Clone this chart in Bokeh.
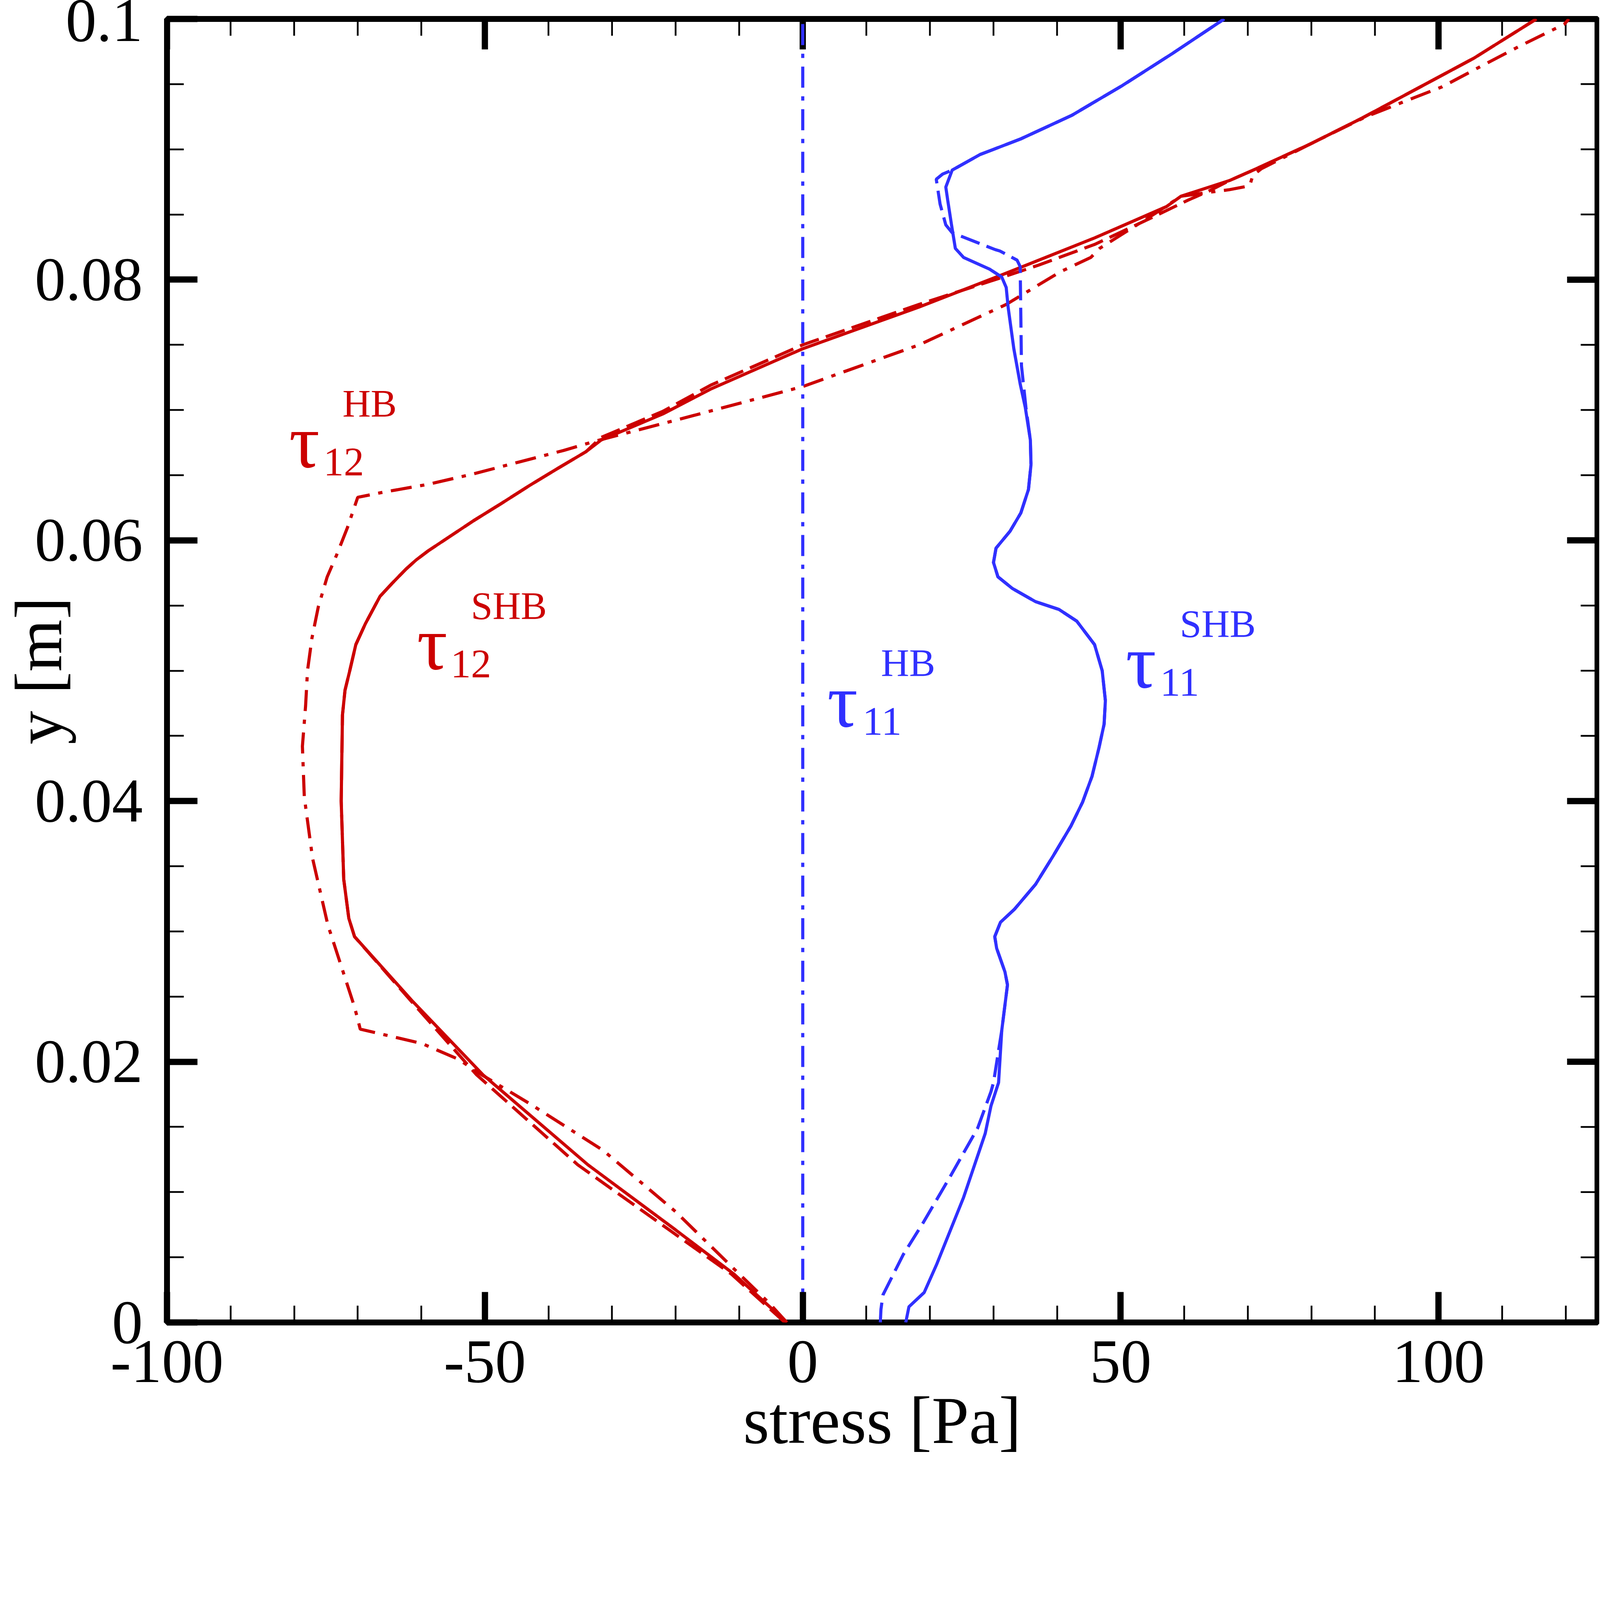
from bokeh.plotting import figure
from bokeh.models import Range1d, FixedTicker, LinearAxis
from bokeh.embed import file_html
from bokeh.resources import INLINE
from bokeh.core.properties import value

# ---------------- data ----------------
# tau_12 SHB (red solid)
t12_shb_y = [0.0, 0.0037, 0.0071, 0.0121, 0.019, 0.0246, 0.0296, 0.031, 0.034, 0.040,
             0.0466, 0.0485, 0.0499, 0.0520, 0.0536, 0.0557, 0.0567, 0.0578, 0.0585,
             0.0592, 0.0603, 0.0615, 0.0628, 0.0642, 0.0655, 0.0668, 0.0677, 0.0697,
             0.0716, 0.0747, 0.0779, 0.0804, 0.0832, 0.0856, 0.0864, 0.0876,
             0.0885, 0.0904, 0.0924, 0.0947, 0.0970, 0.1]
t12_shb_x = [-2.5, -10.8, -20.0, -33.8, -50.3, -61.3, -70.5, -71.4, -72.2, -72.6,
             -72.4, -72.0, -71.3, -70.3, -68.8, -66.5, -64.6, -62.4, -60.8,
             -58.9, -55.5, -51.8, -47.5, -43.0, -38.6, -34.1, -31.7, -22.0,
             -14.5, 0.0, 18.3, 31.5, 45.9, 57.2, 59.5, 67.1,
             71.3, 79.8, 88.0, 96.8, 105.6, 115.4]

# tau_12 (red dashed)
t12_d_y = [0.0, 0.0037, 0.0071, 0.0121, 0.019, 0.0246, 0.0296, 0.031, 0.034, 0.040,
           0.0466, 0.0485, 0.0499, 0.0520, 0.0536, 0.0557, 0.0567, 0.0578, 0.0585,
           0.0592, 0.0603, 0.0615, 0.0628, 0.0642, 0.0655, 0.0668, 0.0679, 0.0699,
           0.0719, 0.0750, 0.0781, 0.0802, 0.0811, 0.0827, 0.0849, 0.0861,
           0.0868, 0.0876, 0.0885, 0.0904, 0.0924, 0.0947, 0.0970, 0.1]
t12_d_x = [-2.8, -11.2, -21.0, -35.4, -51.3, -61.5, -70.5, -71.4, -72.2, -72.6,
           -72.4, -72.0, -71.3, -70.3, -68.8, -66.5, -64.6, -62.4, -60.8,
           -58.9, -55.5, -51.8, -47.5, -43.0, -38.6, -34.1, -31.7, -22.0,
           -14.5, 0.0, 18.3, 31.5, 37.0, 45.9, 55.5, 60.6,
           63.9, 67.1, 71.3, 79.8, 88.0, 96.8, 105.6, 115.4]

# tau_12 HB (red dash-dot)
t12_hb_y = [0.0, 0.0015, 0.0041, 0.0085, 0.0132, 0.0168, 0.019, 0.0202, 0.0214, 0.0225,
            0.0242, 0.0305, 0.0356, 0.0403, 0.0442, 0.0473, 0.0500, 0.0525, 0.0549,
            0.0572, 0.0589, 0.0610, 0.0633, 0.0637, 0.0643, 0.0651, 0.0660, 0.0669,
            0.0676, 0.0696, 0.0718, 0.0750, 0.0781, 0.0806, 0.0817, 0.0824, 0.0851,
            0.0864, 0.0867, 0.0869, 0.0872, 0.0880, 0.0885, 0.0904, 0.0925, 0.0937,
            0.0948, 0.0964, 0.0979, 0.0996, 0.1]
t12_hb_x = [-2.5, -5.3, -10.8, -20.0, -31.4, -43.0, -50.5, -54.2, -59.9, -69.6,
            -70.5, -74.7, -77.1, -78.4, -78.7, -78.2, -77.9, -77.2, -76.2,
            -74.8, -73.3, -71.6, -70.0, -65.9, -58.9, -51.8, -44.7, -37.6,
            -32.7, -17.0, 0.0, 18.3, 32.0, 40.5, 45.3, 46.7, 55.5,
            59.5, 63.9, 67.1, 70.3, 70.8, 72.1, 79.8, 88.6, 94.8,
            100.6, 106.8, 112.7, 119.8, 120.5]

# tau_11 SHB (blue solid)
t11_shb_y = [0.0, 0.0012, 0.0023, 0.0045, 0.0096, 0.0145, 0.0166, 0.0184, 0.0224, 0.0259,
             0.0269, 0.0287, 0.0296, 0.0307, 0.0317, 0.0336, 0.0358, 0.0381, 0.0399,
             0.0419, 0.0441, 0.0459, 0.0477, 0.0500, 0.0520, 0.0538, 0.0547, 0.0553,
             0.0563, 0.0572, 0.0583, 0.0594, 0.0607, 0.0621, 0.0639, 0.0658, 0.0677,
             0.0702, 0.0720, 0.0747, 0.0779, 0.0794, 0.0802, 0.0808, 0.0817, 0.0824,
             0.0842, 0.0861, 0.0871, 0.0884, 0.0896, 0.0908, 0.0926, 0.0949, 0.0974, 0.1]
t11_shb_x = [16.2, 16.7, 19.1, 21.1, 25.3, 28.7, 29.6, 30.8, 31.3, 32.2,
             31.8, 30.5, 30.2, 31.1, 33.3, 36.6, 39.4, 42.2, 44.0,
             45.5, 46.6, 47.4, 47.6, 47.1, 45.9, 43.1, 40.3, 36.6,
             33.0, 30.7, 30.0, 30.4, 32.6, 34.3, 35.5, 35.9, 35.8,
             35.0, 34.2, 33.2, 32.3, 32.0, 31.3, 29.4, 25.3, 24.0,
             23.4, 22.8, 22.5, 23.5, 27.9, 34.3, 42.3, 50.3, 58.3, 66.3]

# tau_11 (blue dashed)
t11_d_y = [0.0, 0.0010, 0.0021, 0.0052, 0.0077, 0.0112, 0.0149, 0.0177, 0.0184, 0.0224,
           0.0259, 0.0269, 0.0287, 0.0296, 0.0307, 0.0317, 0.0336, 0.0358, 0.0381,
           0.0399, 0.0419, 0.0441, 0.0459, 0.0477, 0.0500, 0.0520, 0.0538, 0.0547,
           0.0553, 0.0563, 0.0572, 0.0583, 0.0594, 0.0607, 0.0621, 0.0639, 0.0658,
           0.0677, 0.0702, 0.0734, 0.0772, 0.0810, 0.0815, 0.0822, 0.0823, 0.0836,
           0.0842, 0.0858, 0.0877, 0.0881, 0.0884, 0.0896, 0.0908, 0.0926, 0.0949,
           0.0974, 0.1]
t11_d_x = [12.2, 12.3, 12.6, 15.8, 19.0, 23.2, 27.5, 29.6, 30.0, 31.3,
           32.2, 31.8, 30.5, 30.2, 31.1, 33.3, 36.6, 39.4, 42.2,
           44.0, 45.5, 46.6, 47.4, 47.6, 47.1, 45.9, 43.1, 40.3,
           36.6, 33.0, 30.7, 30.0, 30.4, 32.6, 34.3, 35.5, 35.9,
           35.8, 35.1, 34.4, 34.3, 34.2, 33.7, 31.0, 30.3, 23.5,
           22.5, 21.6, 21.0, 22.0, 23.5, 27.9, 34.3, 42.3, 50.3,
           58.3, 66.3]

# tau_11 HB (blue dash-dot)
t11_hb_y = [0.0, 0.025, 0.05, 0.075, 0.1]
t11_hb_x = [0.0, 0.0, 0.0, 0.0, 0.0]

# axis ticks
x_major = [-100, -50, 0, 50, 100]
x_major_labels = ["-100", "-50", "0", "50", "100"]
x_minor = [-90, -80, -70, -60, -40, -30, -20, -10, 10, 20, 30, 40, 60, 70, 80, 90, 110, 120]
y_major = [0, 0.02, 0.04, 0.06, 0.08, 0.1]
y_major_labels = ["0", "0.02", "0.04", "0.06", "0.08", "0.1"]
y_minor = [0.005, 0.01, 0.015, 0.025, 0.03, 0.035, 0.045, 0.05, 0.055,
           0.065, 0.07, 0.075, 0.085, 0.09, 0.095]

x_title = "stress [Pa]"
y_title = "y [m]"

# annotation texts: tau symbols, subscripts, superscripts
tau_x = [-80.8, -60.7, 3.85, 50.8]
tau_y = [0.0676, 0.0521, 0.0477, 0.0507]
tau_color = ["#CC0000", "#CC0000", "#3030FF", "#3030FF"]
sub_text = ["12", "12", "11", "11"]
sub_x = [-75.4, -55.4, 9.4, 56.2]
sub_y = [0.0660, 0.0505, 0.0461, 0.0491]
sup_text = ["HB", "SHB", "HB", "SHB"]
sup_x = [-72.4, -52.2, 12.3, 59.3]
sup_y = [0.0705, 0.0550, 0.0506, 0.0536]

RED = "#CC0000"
BLUE = "#3030FF"
FONT = "Liberation Serif"

X0, X1 = -100, 125
Y0, Y1 = 0.0, 0.1
BL, BR, BT, BB = 416, 5, 48, 352
W, H = 4094, 3737
FW = W - BL - BR
FH = H - BT - BB

p = figure(width=W, height=H, output_backend="svg", toolbar_location=None,
           x_range=Range1d(X0, X1), y_range=Range1d(Y0, Y1),
           min_border_left=BL, min_border_right=BR, min_border_top=BT,
           min_border_bottom=BB, x_axis_location=None, y_axis_location=None)
p.grid.visible = False
p.outline_line_color = "black"
p.outline_line_width = 15
p.background_fill_color = "white"
p.border_fill_color = "white"

MAJ_LEN, MIN_LEN, MAJ_W, MIN_W = 78, 43, 16, 4.5


def style_axis(ax, major, minor, labels):
    ax.ticker = FixedTicker(ticks=major, minor_ticks=minor)
    ax.axis_line_color = None
    ax.major_tick_in = MAJ_LEN
    ax.major_tick_out = 0
    ax.major_tick_line_width = MAJ_W
    ax.major_tick_line_color = "black"
    ax.minor_tick_in = MIN_LEN
    ax.minor_tick_out = 0
    ax.minor_tick_line_width = MIN_W
    ax.minor_tick_line_color = "black"
    ax.major_label_overrides = {v: s for v, s in zip(major, labels)}
    ax.major_label_text_font = FONT
    ax.major_label_text_font_size = "158px"
    ax.major_label_text_color = "black"
    ax.axis_label_text_font = FONT
    ax.axis_label_text_font_style = "normal"
    ax.axis_label_text_color = "black"


xb = LinearAxis(axis_label=x_title)
style_axis(xb, x_major, x_minor, x_major_labels)
xb.major_label_standoff = 48
xb.axis_label_standoff = 0
xb.axis_label_text_font_size = "172px"
p.add_layout(xb, "below")

yl = LinearAxis(axis_label=y_title)
style_axis(yl, y_major, y_minor, y_major_labels)
yl.major_label_standoff = 62
yl.axis_label_standoff = -108
yl.axis_label_text_font_size = "172px"
p.add_layout(yl, "left")

# mirrored ticks on the top and right edges (drawn from the same tick lists)
dy_maj = MAJ_LEN / FH * (Y1 - Y0)
dy_min = MIN_LEN / FH * (Y1 - Y0)
dx_maj = MAJ_LEN / FW * (X1 - X0)
dx_min = MIN_LEN / FW * (X1 - X0)
p.segment(x0=x_major, y0=[Y1] * len(x_major), x1=x_major, y1=[Y1 - dy_maj] * len(x_major),
          line_color="black", line_width=MAJ_W)
p.segment(x0=x_minor, y0=[Y1] * len(x_minor), x1=x_minor, y1=[Y1 - dy_min] * len(x_minor),
          line_color="black", line_width=MIN_W)
p.segment(x0=[X1] * len(y_major), y0=y_major, x1=[X1 - dx_maj] * len(y_major), y1=y_major,
          line_color="black", line_width=MAJ_W)
p.segment(x0=[X1] * len(y_minor), y0=y_minor, x1=[X1 - dx_min] * len(y_minor), y1=y_minor,
          line_color="black", line_width=MIN_W)

LW = 8
DD = "54 22 11 22"
DA = "51 19"
p.line(t12_hb_x, t12_hb_y, line_color=RED, line_width=LW, line_dash=DD)
p.line(t12_d_x, t12_d_y, line_color=RED, line_width=LW, line_dash=DA)
p.line(t12_shb_x, t12_shb_y, line_color=RED, line_width=LW)
p.line(t11_hb_x, t11_hb_y, line_color=BLUE, line_width=LW, line_dash=DD)
p.line(t11_d_x, t11_d_y, line_color=BLUE, line_width=LW, line_dash=DA)
p.line(t11_shb_x, t11_shb_y, line_color=BLUE, line_width=LW)

p.text(x=tau_x, y=tau_y, text=["\u03c4"] * 4, text_color=tau_color,
       text_font=value(FONT), text_font_size="195px", text_baseline="alphabetic",
       text_align="left")
p.text(x=sub_x, y=sub_y, text=sub_text, text_color=tau_color,
       text_font=value(FONT), text_font_size="104px", text_baseline="alphabetic",
       text_align="left")
p.text(x=sup_x, y=sup_y, text=sup_text, text_color=tau_color,
       text_font=value(FONT), text_font_size="100px", text_baseline="alphabetic",
       text_align="left")

open("out.html", "w").write(file_html(p, INLINE))
